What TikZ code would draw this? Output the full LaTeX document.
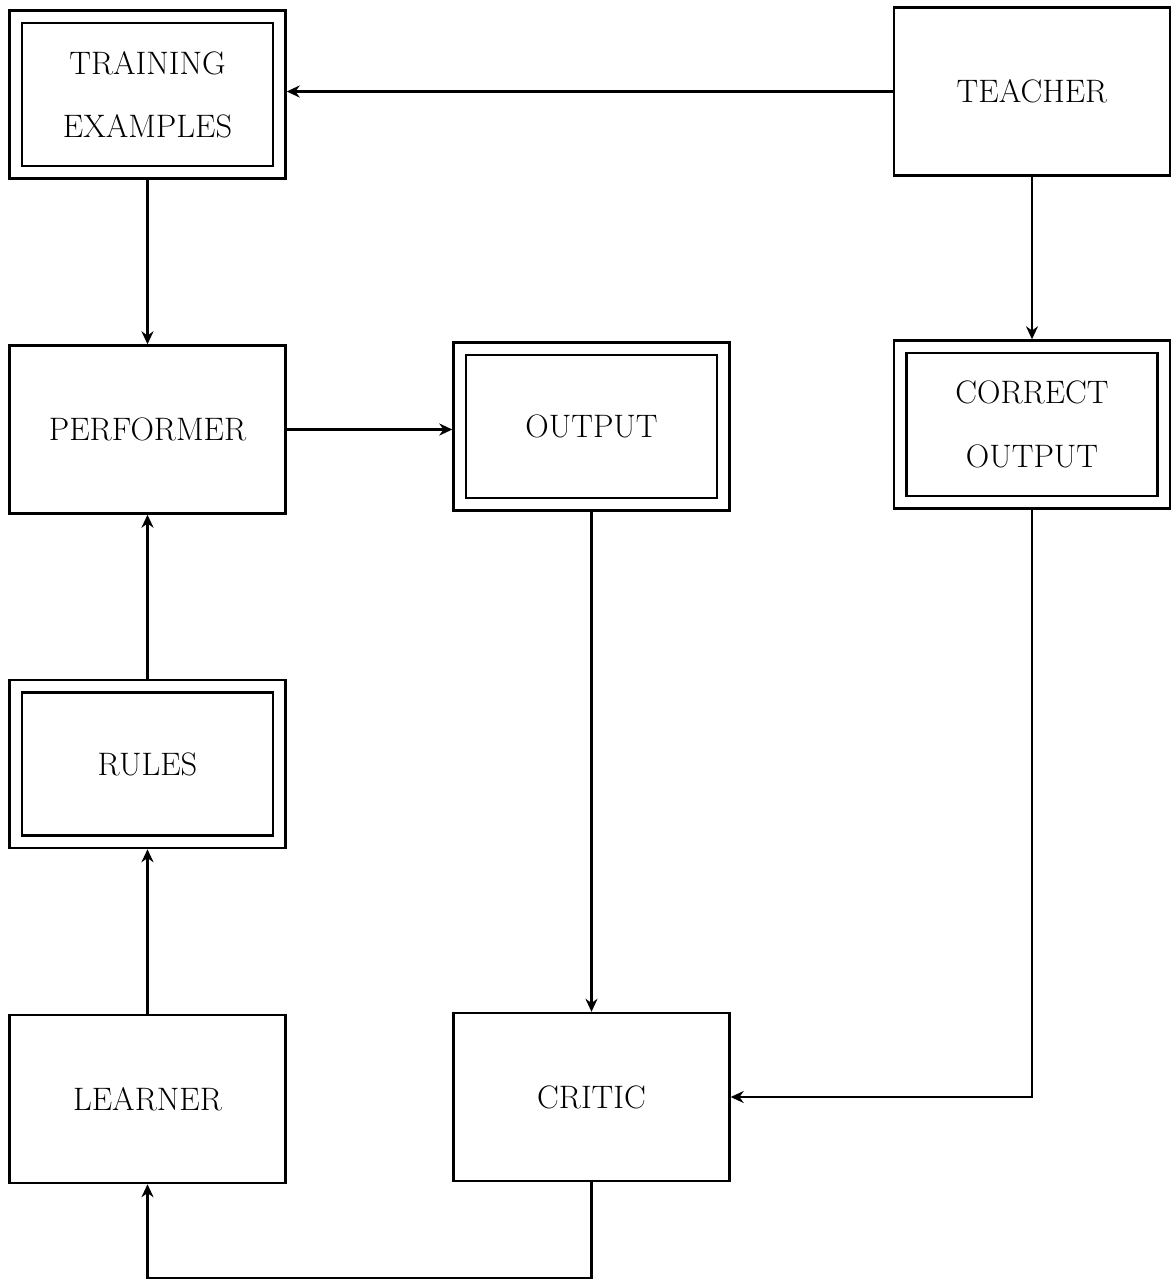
\documentclass[tikz,border=0pt]{standalone}
\usepackage{tikz}
\usetikzlibrary{arrows.meta, positioning, calc}

\tikzset{
  block/.style = {draw, line width=1.4pt, rectangle, inner sep=0pt,
                  minimum width=5.52cm, minimum height=3.36cm, align=center,
                  font=\fontsize{18.5}{36}\selectfont},
  arr/.style = {line width=1.4pt, -{Stealth[length=0.26cm, width=0.24cm]}}
}

\begin{document}
\begin{tikzpicture}[x=0.02cm, y=-0.02cm]
        \useasboundingbox (0,0) rectangle (1172,1281);

        \node[block] (Ntrain) at (147.5, 94.5) {TRAINING\\EXAMPLES};
        \node[block] (Nteach) at (1032, 91.5) {TEACHER};
        \node[block] (Nperf) at (147.5, 429.5) {PERFORMER};
        \node[block] (Nout) at (591.5, 426.5) {OUTPUT};
        \node[block] (Ncorr) at (1032, 424.5) {CORRECT\\OUTPUT};
        \node[block] (Nrules) at (147.5, 764) {RULES};
        \node[block] (Nlearn) at (147.5, 1099) {LEARNER};
        \node[block] (Ncritic) at (591.5, 1097) {CRITIC};

        % inner frames of the stored items
        \foreach \n in {Ntrain, Nout, Ncorr, Nrules}
            \draw[line width=1.4pt] ([shift={(0.27cm,-0.27cm)}]\n.north west) rectangle ([shift={(-0.27cm,0.27cm)}]\n.south east);

        \coordinate (Nloop) at (147.5, 1278);

        \draw[arr] (Nteach.west) -- (Nteach.west -| Ntrain.east);
        \draw[arr] (Ntrain) -- (Nperf);
        \draw[arr] (Nteach) -- (Ncorr);
        \draw[arr] (Nperf.east) -- (Nperf.east -| Nout.west);
        \draw[arr] (Nrules) -- (Nperf);
        \draw[arr] (Nlearn) -- (Nrules);
        \draw[arr] (Nout) -- (Ncritic);
        \draw[arr] (Ncorr.south) |- (Ncritic.east);
        \draw[arr] (Ncritic.south) |- (Nloop) -- (Nlearn.south);
    \end{tikzpicture}
\end{document}
